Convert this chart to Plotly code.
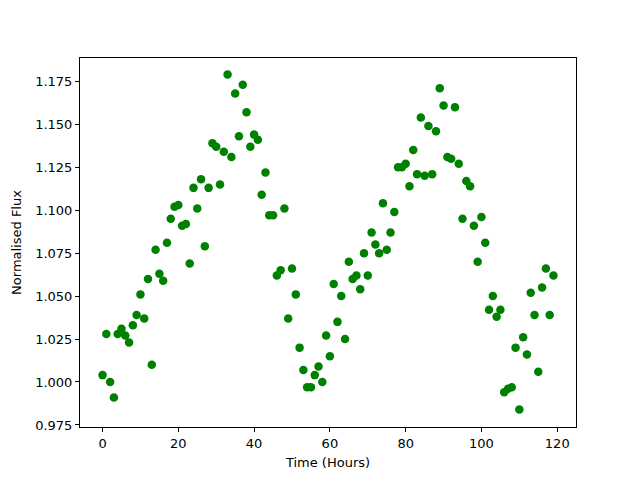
import plotly.graph_objects as go

hours = list(range(120))
flux = [
    1.004, 1.028, 1.000, 0.991, 1.028, 1.031, 1.027, 1.023, 1.033, 1.039,
    1.051, 1.037, 1.060, 1.010, 1.077, 1.063, 1.059, 1.081, 1.095, 1.102,
    1.103, 1.091, 1.092, 1.069, 1.113, 1.101, 1.118, 1.079, 1.113, 1.139,
    1.137, 1.115, 1.134, 1.179, 1.131, 1.168, 1.143, 1.173, 1.157, 1.137,
    1.144, 1.141, 1.109, 1.122, 1.097, 1.097, 1.062, 1.065, 1.101, 1.037,
    1.066, 1.051, 1.020, 1.007, 0.997, 0.997, 1.004, 1.009, 1.000, 1.027,
    1.015, 1.057, 1.035, 1.050, 1.025, 1.070, 1.060, 1.062, 1.054, 1.075,
    1.062, 1.087, 1.080, 1.075, 1.104, 1.077, 1.087, 1.099, 1.125, 1.125,
    1.127, 1.114, 1.135, 1.121, 1.154, 1.120, 1.149, 1.121, 1.146, 1.171,
    1.161, 1.131, 1.130, 1.160, 1.127, 1.095, 1.117, 1.114, 1.091, 1.070,
    1.096, 1.081, 1.042, 1.050, 1.038, 1.042, 0.994, 0.996, 0.997, 1.020,
    0.984, 1.026, 1.016, 1.052, 1.039, 1.006, 1.055, 1.066, 1.039, 1.062,
]

x_ticks = [0, 20, 40, 60, 80, 100, 120]
y_ticks = [0.975, 1.000, 1.025, 1.050, 1.075, 1.100, 1.125, 1.150, 1.175]

fig = go.Figure(go.Scatter(
    x=hours, y=flux, mode="markers",
    marker=dict(color="#008000", size=8.5, line=dict(width=0)),
))

axis_common = dict(
    showline=True, linecolor="black", linewidth=1, mirror=True,
    ticks="outside", ticklen=4, tickwidth=1, tickcolor="black",
    showgrid=False, zeroline=False,
    tickfont=dict(family="DejaVu Sans", size=13, color="black"),
    title_font=dict(family="DejaVu Sans", size=13, color="black"),
)

fig.update_xaxes(
    range=[-5.95, 124.95], tickvals=x_ticks,
    ticktext=[str(v) for v in x_ticks],
    title_text="Time (Hours)", title_standoff=8, **axis_common,
)
fig.update_yaxes(
    range=[0.9738, 1.1886], tickvals=y_ticks,
    ticktext=[f"{v:.3f}" for v in y_ticks],
    title_text="Normalised Flux", title_standoff=10, **axis_common,
)

fig.update_layout(
    width=640, height=480,
    margin=dict(l=80, r=64, t=58, b=53),
    plot_bgcolor="white", paper_bgcolor="white",
    showlegend=False,
    font=dict(family="DejaVu Sans", size=13, color="black"),
)

fig.write_html("out.html", config={"displayModeBar": False})

with open("out.html", "r", encoding="utf-8") as f:
    html = f.read()
html = html.replace("<head>", "<head><style>html,body{margin:0;padding:0;}</style>", 1)
with open("out.html", "w", encoding="utf-8") as f:
    f.write(html)
